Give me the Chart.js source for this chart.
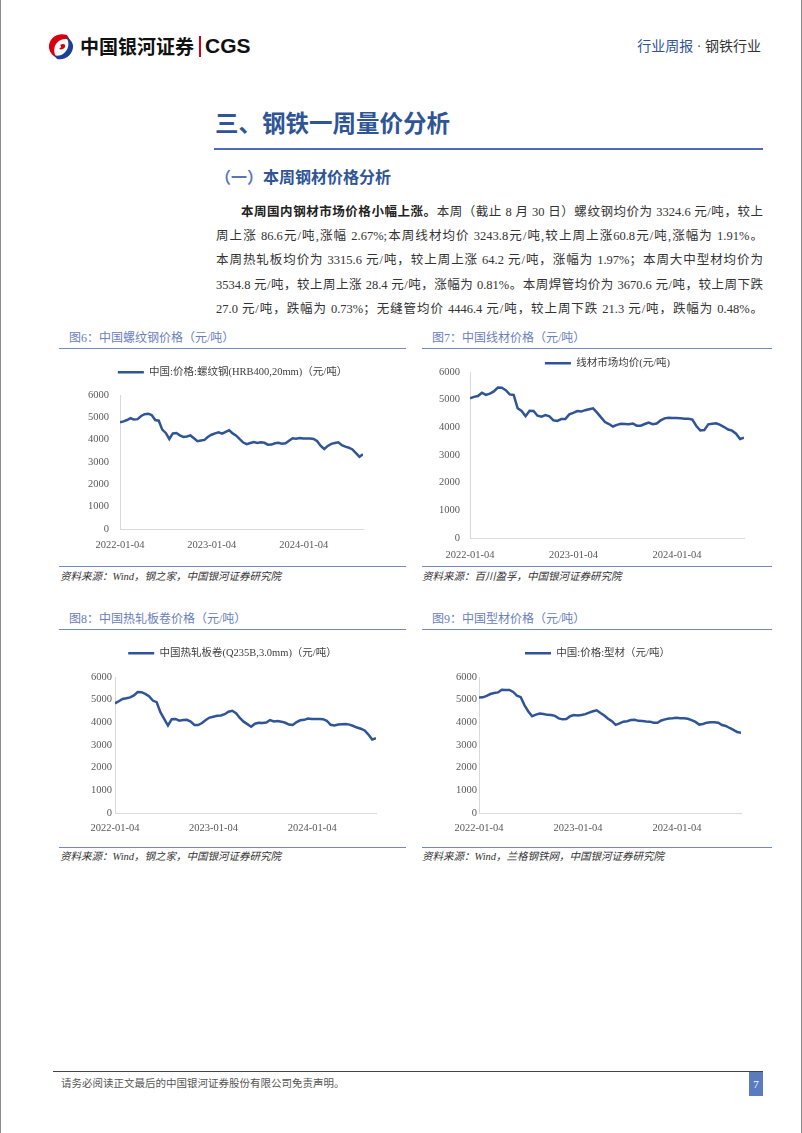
<!DOCTYPE html>
<html>
<head>
<meta charset="utf-8">
<script src="https://cdn.jsdelivr.net/npm/chart.js@4.4.1/dist/chart.umd.min.js"></script>
<style>
  html, body { margin: 0; padding: 0; background: #fff; }
  #page { position: relative; width: 802px; height: 1133px; overflow: hidden; box-sizing: border-box; border-left: 1px solid #8c8c8c; border-right: 1px solid #8c8c8c; font-family: "Liberation Serif", "Noto Sans CJK SC", serif; }
  .abs { position: absolute; white-space: nowrap; }
  .cn { font-family: "Noto Sans CJK SC", sans-serif; }
  .para { position: absolute; left: 215px; top: 199px; width: 547px; font-size: 12.5px; color: #333; }
  .para div { height: 24.5px; line-height: 24.5px; text-align: justify; text-align-last: justify; white-space: nowrap; }
  .figt { position: absolute; font-size: 12px; color: #6a80bb; line-height: 14px; }
  .rule { position: absolute; height: 1px; background: #7489c2; }
  .src { position: absolute; font-size: 10.5px; color: #333; font-style: italic; line-height: 12px; }
  canvas { position: absolute; }
</style>
</head>
<body>
<div id="page">
  <!-- header -->
  <svg class="abs" style="left:45px;top:32px" width="30" height="30" viewBox="0 0 30 30">
    <path d="M21 3 C11 0 2 7 3 16 C4 21 7 24 11 26 C7 21 7 13 13 9 C16 7 20 6 24 8 Z" fill="#d7000f"/>
    <path d="M11 27 C19 29 28 22 27 13 C26 9 23 6 20 5 C24 10 23 18 17 22 C14 24 11 24 8 23 Z" fill="#1f3f94"/>
    <path d="M14 13 C17 11 20 12 19 15 C18 17 15 18 13 17 C15 16 16 14 14 13 Z" fill="#d7000f"/>
  </svg>
  <div class="abs cn" style="left:79px;top:34px;font-size:19px;font-weight:700;color:#111;line-height:24px;">中国银河证券</div>
  <div class="abs" style="left:198px;top:36px;width:2px;height:21px;background:#d7000f;"></div>
  <div class="abs" style="left:204px;top:33px;font-family:'Liberation Sans',sans-serif;font-size:21px;font-weight:700;color:#111;line-height:26px;">CGS</div>
  <div class="abs" style="right:40px;top:36px;font-size:14px;line-height:18px;">
    <span class="cn" style="color:#2f5597;">行业周报</span><span style="color:#555;"> · </span><span class="cn" style="color:#333;">钢铁行业</span>
  </div>

  <!-- section heading -->
  <div class="abs cn" style="left:214px;top:107px;font-size:23.5px;font-weight:700;color:#2f5597;line-height:30px;">三、钢铁一周量价分析</div>
  <div class="abs" style="left:213px;top:148px;width:549px;height:2px;background:#4b6cb7;"></div>
  <div class="abs cn" style="left:214px;top:165px;font-size:16px;font-weight:700;color:#2f5597;line-height:22px;"><span style="color:#5a76b8;">（一）</span>本周钢材价格分析</div>

  <div class="para">
    <div style="padding-left:25px;"><b class="cn" style="color:#222;">本周国内钢材市场价格小幅上涨。</b>本周（截止 8 月 30 日）螺纹钢均价为 3324.6 元/吨，较上</div>
    <div>周上涨 86.6元/吨,涨幅 2.67%;本周线材均价 3243.8元/吨,较上周上涨60.8元/吨,涨幅为 1.91%。</div>
    <div>本周热轧板均价为 3315.6 元/吨，较上周上涨 64.2 元/吨，涨幅为 1.97%；本周大中型材均价为</div>
    <div>3534.8 元/吨，较上周上涨 28.4 元/吨，涨幅为 0.81%。本周焊管均价为 3670.6 元/吨，较上周下跌</div>
    <div>27.0 元/吨，跌幅为 0.73%；无缝管均价 4446.4 元/吨，较上周下跌 21.3 元/吨，跌幅为 0.48%。</div>
  </div>

  <!-- figure frames -->
  <div class="figt" style="left:68px;top:331px;">图6：中国螺纹钢价格（元/吨）</div>
  <div class="rule" style="left:58px;top:348px;width:347px;"></div>
  <div class="rule" style="left:58px;top:566px;width:347px;"></div>
  <div class="src" style="left:59px;top:571px;">资料来源：Wind，钢之家，中国银河证券研究院</div>

  <div class="figt" style="left:431px;top:331px;">图7：中国线材价格（元/吨）</div>
  <div class="rule" style="left:421px;top:348px;width:350px;"></div>
  <div class="rule" style="left:421px;top:566px;width:350px;"></div>
  <div class="src" style="left:421px;top:571px;">资料来源：百川盈孚，中国银河证券研究院</div>

  <div class="figt" style="left:68px;top:612px;">图8：中国热轧板卷价格（元/吨）</div>
  <div class="rule" style="left:58px;top:629px;width:347px;"></div>
  <div class="rule" style="left:58px;top:847px;width:347px;"></div>
  <div class="src" style="left:59px;top:851px;">资料来源：Wind，钢之家，中国银河证券研究院</div>

  <div class="figt" style="left:431px;top:612px;">图9：中国型材价格（元/吨）</div>
  <div class="rule" style="left:421px;top:629px;width:350px;"></div>
  <div class="rule" style="left:421px;top:847px;width:350px;"></div>
  <div class="src" style="left:421px;top:851px;">资料来源：Wind，兰格钢铁网，中国银河证券研究院</div>

  <canvas id="c6" width="347" height="196" style="left:58px;top:363px;"></canvas>
  <canvas id="c7" width="350" height="214" style="left:421px;top:354px;"></canvas>
  <canvas id="c8" width="347" height="199" style="left:58px;top:644px;"></canvas>
  <canvas id="c9" width="350" height="199" style="left:421px;top:644px;"></canvas>

  <!-- footer -->
  <div class="abs" style="left:52px;top:1071px;width:710px;height:1px;background:#444;"></div>
  <div class="abs cn" style="left:60px;top:1076px;font-size:10.5px;color:#555;line-height:14px;">请务必阅读正文最后的中国银河证券股份有限公司免责声明。</div>
  <div class="abs" style="left:748px;top:1072px;width:14px;height:24px;background:#5b7bbf;color:#fff;font-size:11px;line-height:24px;text-align:center;">7</div>
</div>

<script>
// x = days since 2022-01-04, sampled about every two weeks
const days = [0, 14, 28, 42, 56, 70, 84, 98, 112, 126, 140, 154, 168, 182, 196, 210, 224, 238, 252, 266,
  280, 294, 308, 322, 336, 350, 364, 378, 392, 406, 420, 434, 448, 462, 476, 490, 504, 518, 532, 546,
  560, 574, 588, 602, 616, 630, 644, 658, 672, 686, 700, 714, 728, 742, 756, 770, 784, 798, 812, 826,
  840, 854, 868, 882, 896, 910, 924, 938, 952, 966];

const tickDays = [0, 365, 730];
const tickLabels = ["2022-01-04", "2023-01-04", "2024-01-04"];

const rebar = [4777, 4820, 4880, 4960, 4900, 4920, 5060, 5140, 5164, 5100,
  4880, 4850, 4450, 4300, 4030, 4280, 4299, 4194, 4120, 4140,
  4190, 4060, 3930, 3960, 3990, 4130, 4220, 4280, 4330, 4270,
  4350, 4418, 4280, 4180, 4020, 3870, 3800, 3850, 3895, 3850,
  3880, 3860, 3776, 3780, 3840, 3860, 3820, 3840, 3950, 4060,
  4045, 4075, 4050, 4050, 4050, 4030, 3930, 3720, 3580, 3720,
  3810, 3850, 3880, 3750, 3690, 3640, 3560, 3400, 3230, 3350];

const wireRod = [5048, 5100, 5130, 5250, 5170, 5220, 5300, 5440, 5430, 5340,
  5190, 5170, 4690, 4590, 4400, 4600, 4590, 4420, 4385, 4440,
  4400, 4255, 4230, 4300, 4300, 4470, 4520, 4590, 4570, 4620,
  4655, 4687, 4530, 4360, 4190, 4120, 4030, 4090, 4130, 4120,
  4110, 4140, 4060, 4060, 4120, 4170, 4115, 4140, 4250, 4325,
  4345, 4340, 4340, 4330, 4310, 4310, 4280, 4048, 3890, 3900,
  4110, 4132, 4148, 4090, 4010, 3920, 3880, 3770, 3580, 3626];

const hotRolled = [4840, 4930, 5030, 5060, 5100, 5190, 5340, 5330, 5255, 5150,
  4960, 4890, 4450, 4150, 3860, 4140, 4150, 4070, 4100, 4110,
  4030, 3880, 3880, 3970, 4100, 4210, 4250, 4290, 4300, 4360,
  4470, 4510, 4400, 4190, 4030, 3920, 3808, 3940, 3980, 3970,
  3990, 4100, 4040, 4060, 4030, 3980, 3900, 3880, 4010, 4090,
  4110, 4170, 4150, 4150, 4150, 4140, 4070, 3890, 3860, 3900,
  3920, 3930, 3900, 3838, 3770, 3720, 3640, 3460, 3240, 3300];

const sections = [5100, 5103, 5170, 5250, 5290, 5320, 5440, 5430, 5426, 5340,
  5180, 5110, 4750, 4480, 4270, 4340, 4390, 4370, 4330, 4323,
  4285, 4176, 4132, 4150, 4270, 4320, 4300, 4320, 4360, 4426,
  4490, 4530, 4410, 4300, 4160, 4050, 3890, 3956, 4030, 4050,
  4100, 4110, 4065, 4060, 4040, 4030, 3980, 3980, 4080, 4132,
  4170, 4176, 4205, 4180, 4176, 4160, 4100, 4020, 3900, 3925,
  3985, 4000, 4000, 3980, 3880, 3838, 3750, 3670, 3570, 3540];

const FONT = '"Liberation Serif", "Noto Sans CJK SC", serif';
const LINE = '#2F5597';

function makeChart(id, label, values, lay) {
  // legend: extra space under it, and horizontal centre where the report has it
  const legendPlace = {
    id: 'legendPlace',
    beforeInit(chart) {
      const fit = chart.legend.fit;
      chart.legend.fit = function () {
        fit.call(this);
        this.height += lay.gap;
      };
    },
    afterLayout(chart) {
      const lg = chart.legend;
      const dx = lay.legendX - (lg.left + lg.right) / 2;
      lg.left += dx;
      lg.right += dx;
    }
  };

  return new Chart(document.getElementById(id), {
    type: 'line',
    data: {
      datasets: [{
        label: label,
        data: days.map((d, i) => ({ x: d, y: values[i] })),
        borderColor: LINE,
        backgroundColor: LINE,
        borderWidth: 2.5,
        pointRadius: 0,
        tension: 0
      }]
    },
    options: {
      responsive: false,
      animation: false,
      layout: { padding: { left: 0, right: lay.padR, top: 0, bottom: 0 } },
      plugins: {
        tooltip: { enabled: false },
        legend: {
          position: 'top',
          labels: {
            usePointStyle: true,
            pointStyle: 'line',
            pointStyleWidth: 26,
            padding: 4,
            color: '#404040',
            font: { family: FONT, size: 10.5 }
          }
        }
      },
      scales: {
        x: {
          type: 'linear',
          min: 0,
          max: days[days.length - 1],
          grid: { display: false, drawTicks: false, tickLength: 0 },
          border: { display: true, color: '#d9d9d9', width: 1 },
          afterBuildTicks: s => { s.ticks = tickDays.map(v => ({ value: v })); },
          afterFit: s => { s.height = 30; },
          ticks: {
            autoSkip: false,
            maxRotation: 0,
            padding: lay.xPad,
            color: '#595959',
            font: { family: FONT, size: 10.5 },
            callback: v => tickLabels[tickDays.indexOf(v)]
          }
        },
        y: {
          min: 0,
          max: 6000,
          grid: { display: false, drawTicks: false, tickLength: 0 },
          border: { display: true, color: '#d9d9d9', width: 1 },
          afterFit: s => { s.width = lay.yW; },
          ticks: {
            stepSize: 1000,
            padding: lay.yPad,
            color: '#595959',
            font: { family: FONT, size: 10.5 },
            callback: v => String(v)
          }
        }
      }
    },
    plugins: [legendPlace]
  });
}

makeChart('c6', '中国:价格:螺纹钢(HRB400,20mm)（元/吨）', rebar,
  { padR: 43, yW: 61, legendX: 173.5, gap: 7.5, xPad: 10, yPad: 11 });
makeChart('c7', '线材市场均价(元/吨)', wireRod,
  { padR: 28, yW: 48, legendX: 185.5, gap: -6.5, xPad: 11, yPad: 10 });
makeChart('c8', '中国热轧板卷(Q235B,3.0mm)（元/吨）', hotRolled,
  { padR: 30, yW: 56, legendX: 173.5, gap: 8.5, xPad: 9, yPad: 3 });
makeChart('c9', '中国:价格:型材（元/吨）', sections,
  { padR: 31, yW: 57, legendX: 175.5, gap: 8.5, xPad: 9, yPad: 2 });
</script>
</body>
</html>
